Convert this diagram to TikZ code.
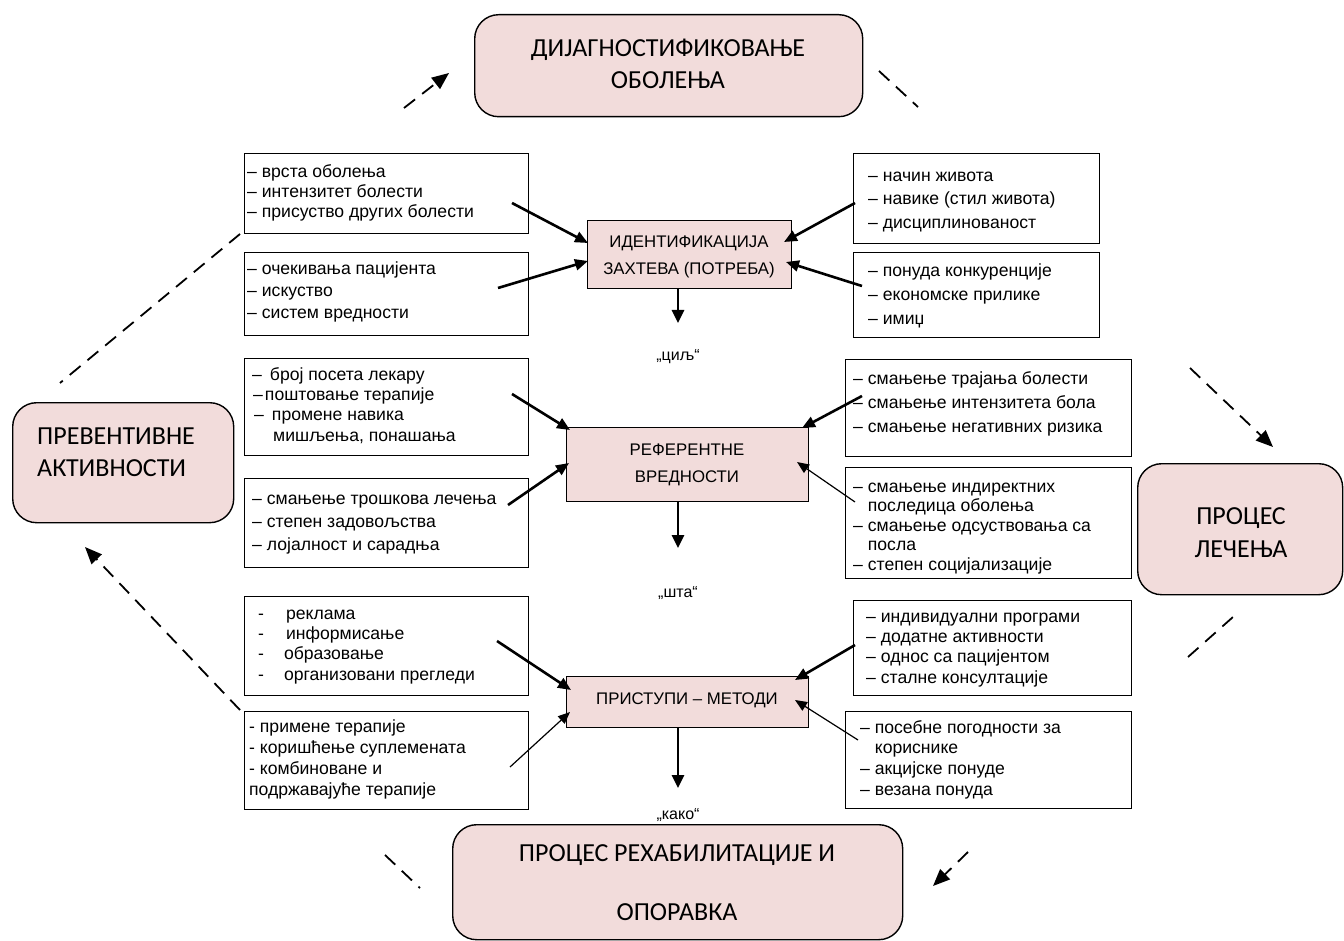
\documentclass[tikz,border=0pt]{standalone}
\usepackage{fontspec}
\setmainfont{Liberation Sans}
\newfontfamily\calib{Carlito}
\usetikzlibrary{arrows.meta,calc}
\definecolor{boxpink}{RGB}{242,220,219}
\begin{document}
\begin{tikzpicture}[x=1pt,y=-1pt,
  bigbox/.style={draw=black,line width=1.4pt,fill=boxpink,rounded corners=24pt,anchor=north west,inner sep=0pt},
  midbox/.style={draw=black,line width=1.4pt,fill=boxpink,anchor=north west,inner sep=0pt},
  listbox/.style={draw=black,line width=1.4pt,anchor=north west,inner sep=0pt},
  bigtxt/.style={font=\calib\fontsize{26}{32}\selectfont,anchor=base,inner sep=0pt},
  midtxt/.style={font=\fontsize{16.8}{20}\selectfont,anchor=base,inner sep=0pt},
  listtxt/.style={anchor=north west,inner sep=0pt,align=left},
  quote/.style={font=\fontsize{16}{20}\selectfont,anchor=base,inner sep=0pt},
  feed/.style={line width=2.6pt,-{Triangle[length=13pt,width=11pt]}},
  feedthin/.style={line width=1.2pt,-{Triangle[length=12pt,width=10pt]}},
  down/.style={line width=2.6pt,-{Triangle[length=13pt,width=12pt]}},
  loopline/.style={line width=1.8pt,dash pattern=on 14pt off 9pt},
  loophead/.style={loopline,-{Triangle[length=17pt,width=14pt]}}]
\useasboundingbox (0,0) rectangle (1344,941);

% --- outer cycle boxes ---
\node[bigbox,minimum width=388pt,minimum height=102pt] (diag) at (474,14) {};
\node[bigtxt] (diag1) at (668,57) {ДИЈАГНОСТИФИКОВАЊЕ};
\node[bigtxt] (diag2) at (668,89) {ОБОЛЕЊА};

\node[bigbox,minimum width=221pt,minimum height=120pt] (prev) at (12,402) {};
\node[bigtxt,anchor=base west] (prev1) at (37,444) {ПРЕВЕНТИВНЕ};
\node[bigtxt,anchor=base west] (prev2) at (37,476) {АКТИВНОСТИ};

\node[bigbox,minimum width=205pt,minimum height=131pt] (treat) at (1137,463) {};
\node[bigtxt] (treat1) at (1241,524) {ПРОЦЕС};
\node[bigtxt] (treat2) at (1241,557) {ЛЕЧЕЊА};

\node[bigbox,minimum width=450pt,minimum height=115pt] (rehab) at (452,824) {};
\node[bigtxt] (rehab1) at (677,861) {ПРОЦЕС РЕХАБИЛИТАЦИЈЕ И};
\node[bigtxt] (rehab2) at (677,920) {ОПОРАВКА};

% --- central chain ---
\node[midbox,minimum width=204pt,minimum height=68pt] (ident) at (587,220) {};
\node[midtxt] (ident1) at (689,248) {ИДЕНТИФИКАЦИЈА};
\node[midtxt] (ident2) at (689,275) {ЗАХТЕВА (ПОТРЕБА)};

\node[midbox,minimum width=242pt,minimum height=74pt] (refv) at (566,427) {};
\node[midtxt] (refv1) at (687,455) {РЕФЕРЕНТНЕ};
\node[midtxt] (refv2) at (687,482) {ВРЕДНОСТИ};

\node[midbox,minimum width=242pt,minimum height=51pt] (meth) at (566,676) {};
\node[midtxt] (meth1) at (687,704) {ПРИСТУПИ – МЕТОДИ};

\node[quote] (q1) at (678,360) {„циљ“};
\node[quote] (q2) at (678,597) {„шта“};
\node[quote] (q3) at (678,819) {„како“};

\coordinate (d1) at (678,323);
\coordinate (d2) at (678,548);
\coordinate (d3) at (678,788);
\draw[down] (ident.south -| d1) -- (d1);
\draw[down] (refv.south -| d2) -- (d2);
\draw[down] (meth.south -| d3) -- (d3);

% --- left lists ---
\node[listbox,minimum width=284pt,minimum height=80pt] (l1) at (244,153) {};
\node[listtxt,font=\fontsize{17.6}{20}\selectfont] (l1t) at (247,164)
  {\rule{0pt}{13pt}– врста оболења\\– интензитет болести\\– присуство других болести};

\node[listbox,minimum width=284pt,minimum height=83pt] (l2) at (244,252) {};
\node[listtxt,font=\fontsize{17.6}{22}\selectfont] (l2t) at (247,261)
  {\rule{0pt}{13pt}– очекивања пацијента\\– искуство\\– систем вредности};

\node[listbox,minimum width=284pt,minimum height=97pt] (l3) at (244,358) {};
\node[listtxt,font=\fontsize{17.6}{20.3}\selectfont] (l3t) at (252,367)
  {\rule{0pt}{13pt}–\hspace{8pt}број посета лекару\\\hspace{1pt}–\hspace{2pt}поштовање терапије\\\hspace{2pt}–\hspace{8pt}промене навика\\\hspace{21pt}мишљења, понашања};

\node[listbox,minimum width=284pt,minimum height=89pt] (l4) at (244,478) {};
\node[listtxt,font=\fontsize{17.6}{23}\selectfont] (l4t) at (252,491)
  {\rule{0pt}{13pt}– смањење трошкова лечења\\– степен задовољства\\– лојалност и сарадња};

\node[listbox,minimum width=284pt,minimum height=99pt] (l5) at (244,596) {};
\node[listtxt,font=\fontsize{17.6}{20.3}\selectfont] (l5t) at (258,606)
  {\rule{0pt}{13pt}-\hspace{22pt}реклама\\-\hspace{22pt}информисање\\-\hspace{20pt}образовање\\-\hspace{20pt}организовани прегледи};

\node[listbox,minimum width=284pt,minimum height=98pt] (l6) at (244,711) {};
\node[listtxt,font=\fontsize{17.6}{21}\selectfont] (l6t) at (249,719)
  {\rule{0pt}{13pt}- примене терапије\\- коришћење суплемената\\- комбиноване и\\подржавајуће терапије};

% --- right lists ---
\node[listbox,minimum width=246pt,minimum height=90pt] (r1) at (853,153) {};
\node[listtxt,font=\fontsize{17.6}{23.5}\selectfont] (r1t) at (868,168)
  {\rule{0pt}{13pt}– начин живота\\– навике (стил живота)\\– дисциплинованост};

\node[listbox,minimum width=246pt,minimum height=85pt] (r2) at (853,252) {};
\node[listtxt,font=\fontsize{17.6}{24}\selectfont] (r2t) at (868,263)
  {\rule{0pt}{13pt}– понуда конкуренције\\– економске прилике\\– имиџ};

\node[listbox,minimum width=286pt,minimum height=97pt] (r3) at (845,359) {};
\node[listtxt,font=\fontsize{17.6}{24}\selectfont] (r3t) at (853,371)
  {\rule{0pt}{13pt}– смањење трајања болести\\– смањење интензитета бола\\– смањење негативних ризика};

\node[listbox,minimum width=286pt,minimum height=111pt] (r4) at (845,467) {};
\node[listtxt,font=\fontsize{17.6}{19.5}\selectfont] (r4t) at (853,479)
  {\rule{0pt}{13pt}– смањење индиректних\\\phantom{– }последица оболења\\– смањење одсуствовања са\\\phantom{– }посла\\– степен социјализације};

\node[listbox,minimum width=278pt,minimum height=95pt] (r5) at (853,600) {};
\node[listtxt,font=\fontsize{17.6}{20.3}\selectfont] (r5t) at (866,609)
  {\rule{0pt}{13pt}– индивидуални програми\\– додатне активности\\– однос са пацијентом\\– сталне консултације};

\node[listbox,minimum width=286pt,minimum height=97pt] (r6) at (845,711) {};
\node[listtxt,font=\fontsize{17.6}{20.7}\selectfont] (r6t) at (860,720)
  {\rule{0pt}{13pt}– посебне погодности за\\\phantom{– }кориснике\\– акцијске понуде\\– везана понуда};

% --- feeding arrows into the central chain ---
\coordinate (s1) at (512,203);  \coordinate (t1) at (588,243);
\coordinate (s2) at (498,288);  \coordinate (t2) at (588,261);
\coordinate (s3) at (855,203);  \coordinate (t3) at (784,242);
\coordinate (s4) at (862,286);  \coordinate (t4) at (786,262);
\coordinate (s5) at (512,394);  \coordinate (t5) at (570,430);
\coordinate (s6) at (508,505);  \coordinate (t6) at (569,463);
\coordinate (s7) at (862,396);  \coordinate (t7) at (802,428);
\coordinate (s8) at (855,502);  \coordinate (t8) at (797,462);
\coordinate (s9) at (497,641);  \coordinate (t9) at (571,690);
\coordinate (s10) at (510,767); \coordinate (t10) at (570,712);
\coordinate (s11) at (855,645); \coordinate (t11) at (795,680);
\coordinate (s12) at (858,740); \coordinate (t12) at (795,700);
\draw[feed] (s1) -- (t1);
\draw[feed] (s2) -- (t2);
\draw[feed] (s3) -- (t3);
\draw[feed] (s4) -- (t4);
\draw[feed] (s5) -- (t5);
\draw[feed] (s6) -- (t6);
\draw[feed] (s7) -- (t7);
\draw[feedthin] (s8) -- (t8);
\draw[feed] (s9) -- (t9);
\draw[feedthin] (s10) -- (t10);
\draw[feed] (s11) -- (t11);
\draw[feedthin] (s12) -- (t12);

% --- dashed cycle between the outer boxes ---
\coordinate (c1a) at (404,108);  \coordinate (c1b) at (449,73);
\coordinate (c2a) at (879,71);   \coordinate (c2b) at (918,107);
\coordinate (c3a) at (1190,368); \coordinate (c3b) at (1273,447);
\coordinate (c4a) at (1188,657); \coordinate (c4b) at (1233,617);
\coordinate (c5a) at (968,852);  \coordinate (c5b) at (933,886);
\coordinate (c6a) at (385,855);  \coordinate (c6b) at (420,888);
\coordinate (c7a) at (240,710);  \coordinate (c7b) at (85,547);
\coordinate (c8a) at (240,234);  \coordinate (c8b) at (60,383);
\draw[loophead] (c1a) -- (c1b);
\draw[loopline] (c2a) -- (c2b);
\draw[loophead] (c3a) -- (c3b);
\draw[loopline] (c4a) -- (c4b);
\draw[loophead] (c5a) -- (c5b);
\draw[loopline] (c6a) -- (c6b);
\draw[loophead] (c7a) -- (c7b);
\draw[loopline] (c8a) -- (c8b);
\end{tikzpicture}
\end{document}
